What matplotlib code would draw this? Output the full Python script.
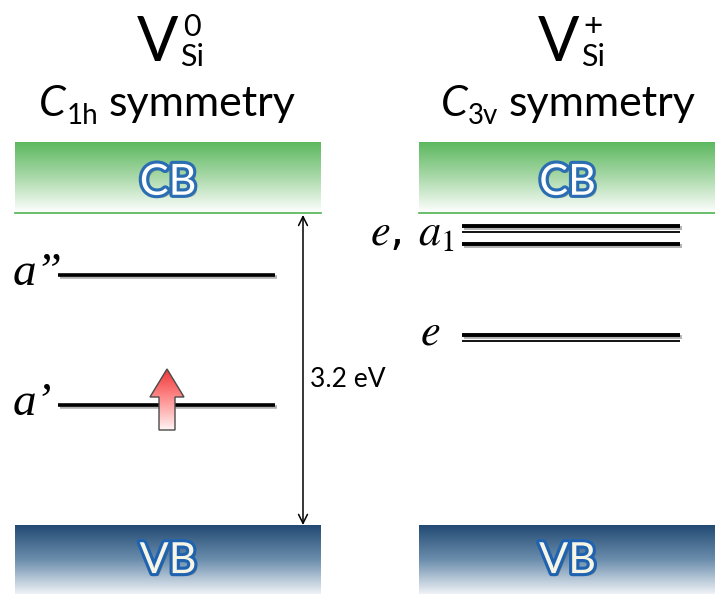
import numpy as np
import matplotlib
matplotlib.use("Agg")
import matplotlib.pyplot as plt
from matplotlib.colors import LinearSegmentedColormap
from matplotlib.patches import Polygon
import matplotlib.patheffects as pe
import matplotlib.transforms as mtransforms

# ---- energies in eV, measured from the valence-band maximum ----
band_gap = 3.2
band_depth = 0.72            # drawn thickness of the CB / VB blocks

left_level_E = [2.56, 1.23]
left_labels = ["a\u201d", "a\u2019"]

right_level_E = [3.07, 2.88, 1.95]
right_level_deg = [2, 1, 2]  # doubly degenerate e levels are drawn as double lines
right_label_E = [2.975, 1.95]
right_labels = [r"$e$, $a_{1}$", r"$e$"]

gap_label = "3.2 eV"
titles = [("0", "1h"), ("+", "3v")]

# ---- figure in pixel-like x units, energy on y ----
W, H = 715, 594
px_per_eV = 97.5
y_vbm_px = 525
E_top = y_vbm_px / px_per_eV
E_bot = (y_vbm_px - H) / px_per_eV

fig = plt.figure(figsize=(W / 100, H / 100), dpi=100)
ax = fig.add_axes([0, 0, 1, 1])
ax.set_axis_off()
ax.set_xlim(0, W)
ax.set_ylim(E_bot, E_top)
renderer = fig.canvas.get_renderer()


def off(dx, dy):
    return mtransforms.offset_copy(ax.transData, fig=fig, x=dx, y=dy, units="dots")


cb_cmap = LinearSegmentedColormap.from_list(
    "cb", [(0.0, "#5cb85f"), (0.45, "#a3d6a3"), (1.0, "#ffffff")])
vb_cmap = LinearSegmentedColormap.from_list(
    "vb", [(0.0, "#f4f6f9"), (0.5, "#6d8fae"), (1.0, "#224a73")])
grad = np.linspace(0, 1, 256).reshape(-1, 1)

panels = [(15, 321), (419, 716)]
for x0, x1 in panels:
    # conduction band (white at top -> green at the edge)
    ax.imshow(grad[::-1], extent=[x0, x1, band_gap, band_gap + band_depth],
              cmap=cb_cmap, aspect="auto", origin="lower", zorder=1)
    ax.plot([x0, x1], [band_gap, band_gap], color="#4fb351", lw=1.2, zorder=2)
    # valence band (dark navy at the edge -> white at bottom)
    ax.imshow(grad, extent=[x0, x1, -band_depth, 0],
              cmap=vb_cmap, aspect="auto", origin="lower", zorder=1)
    xc = (x0 + min(x1, 726)) / 2
    for txt, yE, face, edge in [("CB", band_gap + 0.31, "white", "#2b6db3"),
                                ("VB", -0.37, "#f6f5e6", "#1f63b0")]:
        ax.text(xc, yE, txt, ha="center", va="center", fontsize=31,
                family="Lato", color=face, zorder=5,
                path_effects=[pe.SimplePatchShadow(offset=(2, -2), alpha=0.45),
                              pe.Stroke(linewidth=4.5, foreground=edge),
                              pe.Normal()])

line_fx = [pe.SimpleLineShadow(offset=(1.2, -1.5), shadow_color="#555555", alpha=0.45),
           pe.Normal()]

# ---- left panel: V_Si^0 levels ----
for E, lab in zip(left_level_E, left_labels):
    ax.plot([58, 275], [E, E], color="black", lw=2.6, solid_capstyle="butt",
            zorder=4, path_effects=line_fx)
    ax.text(13, E, lab, transform=off(0, -10), ha="left", va="baseline",
            fontsize=34, family="Liberation Serif", style="italic", zorder=5)

# spin-up electron on a'
arrow_pts_px = np.array([[167, 369], [184, 397], [175, 397], [175, 430],
                         [159, 430], [159, 397], [150, 397]], dtype=float)
arrow_pts = np.column_stack([arrow_pts_px[:, 0],
                             (y_vbm_px - arrow_pts_px[:, 1]) / px_per_eV])
arrow_poly = Polygon(arrow_pts, closed=True, facecolor="none",
                     edgecolor="#4a4a4a", lw=1.0, zorder=7)
ax.add_patch(arrow_poly)
red_cmap = LinearSegmentedColormap.from_list("up", ["#fff4f4", "#ff9090", "#ee3434"])
im = ax.imshow(grad, extent=[arrow_pts[:, 0].min(), arrow_pts[:, 0].max(),
                             arrow_pts[:, 1].min(), arrow_pts[:, 1].max()],
               cmap=red_cmap, aspect="auto", origin="lower", zorder=6)
im.set_clip_path(arrow_poly)

# band gap arrow
ax.annotate("", xy=(303, band_gap - 0.02), xytext=(303, 0.0),
            arrowprops=dict(arrowstyle="<->", lw=1.1, color="black",
                            shrinkA=0, shrinkB=0, mutation_scale=16), zorder=3)
ax.text(310, (y_vbm_px - 379) / px_per_eV, gap_label, ha="left", va="center",
        fontsize=19, family="Lato")

# ---- right panel: V_Si^+ levels ----
for E, deg in zip(right_level_E, right_level_deg):
    ax.plot([462, 680], [E, E], color="black", lw=2.8, solid_capstyle="butt",
            zorder=4, path_effects=line_fx)
    if deg == 2:
        ax.plot([462, 680], [E, E], color="black", lw=1.3, solid_capstyle="butt",
                transform=off(0, -6.5), zorder=4)
for E, lab, xr in zip(right_label_E, right_labels, [455, 440]):
    ax.text(xr, E, lab, transform=off(0, -10), ha="right", va="baseline",
            fontsize=32, math_fontfamily="stix", zorder=5)


# ---- titles, laid out run by run in output pixels ----
def text_run(xcenter, ybase_px, pieces):
    """pieces: (text, fontsize, style, dy_px, gap_px_before)"""
    objs, x = [], 0.0
    for s, size, style, dy, gap in pieces:
        x += gap
        t = fig.text(0, 0, s, fontsize=size, style=style, family="Lato",
                     ha="left", va="baseline",
                     transform=mtransforms.IdentityTransform())
        t.set_position((x, H - ybase_px + dy))
        w = t.get_window_extent(renderer).width
        objs.append((t, x, w))
        x += w
    total = max(o[1] + o[2] for o in objs)
    shift = xcenter - total / 2
    for t, xx, w in objs:
        t.set_position((xx + shift, t.get_position()[1]))


for (sup, sub), xc in zip(titles, [170, 571]):
    # charge-state label: V with stacked superscript and subscript
    vt = fig.text(0, 0, "V", fontsize=44, family="Lato", ha="left", va="baseline",
                  transform=mtransforms.IdentityTransform())
    vw = vt.get_window_extent(renderer).width
    st = fig.text(0, 0, "Si", fontsize=22, family="Lato", ha="left", va="baseline",
                  transform=mtransforms.IdentityTransform())
    sw = st.get_window_extent(renderer).width
    pt = fig.text(0, 0, sup, fontsize=24 if sup == "+" else 22, family="Lato",
                  ha="left", va="baseline",
                  transform=mtransforms.IdentityTransform())
    total = vw + 2 + sw
    x0 = xc - total / 2
    vt.set_position((x0, H - 61))
    st.set_position((x0 + vw + 2, H - 66))
    pt.set_position((x0 + vw + 2 + (sw - pt.get_window_extent(renderer).width) / 2,
                     H - 36))
    # point-group line
    text_run(xc - 3, 116, [("C", 31, "italic", 0, 0),
                           (sub, 20, "normal", -8, 1),
                           ("symmetry", 31, "normal", 0, 10)])

fig.savefig("out.png", dpi=100)
